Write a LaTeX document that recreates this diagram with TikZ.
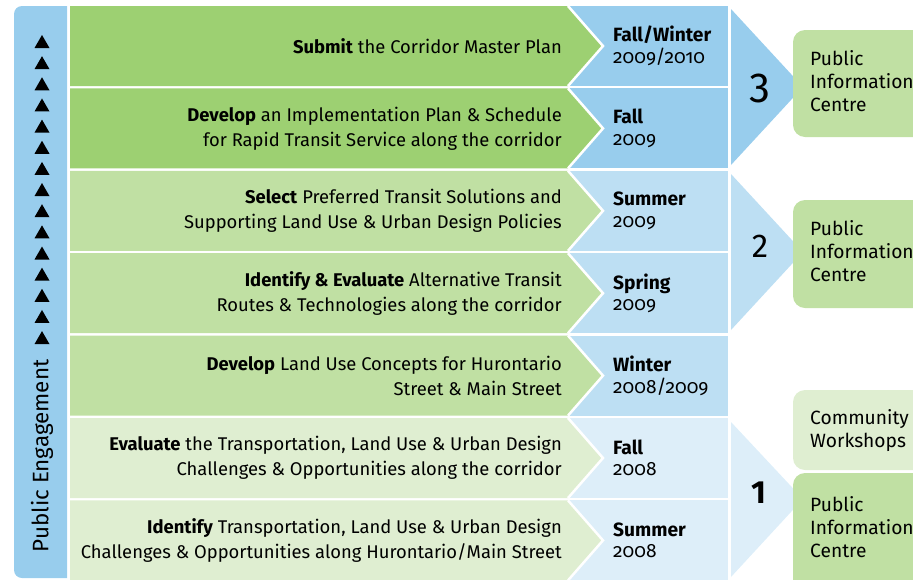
\documentclass[tikz,border=0pt]{standalone}
\usepackage{fontspec}
\setmainfont{Fira Sans}
\newfontfamily\yearfont[Numbers=OldStyle]{Fira Sans}

\definecolor{greenA}{RGB}{157,208,114}
\definecolor{greenB}{RGB}{192,224,163}
\definecolor{greenC}{RGB}{223,238,209}
\definecolor{blueA}{RGB}{152,205,237}
\definecolor{blueB}{RGB}{189,223,243}
\definecolor{blueC}{RGB}{221,238,249}

\tikzset{
  stage/.style={anchor=east, align=right, inner sep=0pt, font=\fontsize{18.4}{25}\selectfont},
  date/.style={anchor=west, align=left, inner sep=0pt, font=\fontsize{19.2}{21.5}\selectfont},
  bignum/.style={inner sep=0pt, font=\fontsize{#1}{#1}\selectfont},
  boxtext/.style={anchor=west, align=left, inner sep=0pt, font=\fontsize{19.2}{23}\selectfont}
}

\newcommand{\phaserow}[6]{%
  \fill[#3] (568,#1) rectangle (728,#1+80);
  \fill[#2] (70,#1) -- (568,#1) -- (603,#1+40) -- (568,#1+80) -- (70,#1+80) -- cycle;
  \draw[white, line width=2.5pt] (568,#1) -- (603,#1+40) -- (568,#1+80);
  \node[stage] (#4) at (562,#1+40) {#5};
  \node[date] (#4-date) at (613,#1+40) {#6};
}

\begin{document}
\begin{tikzpicture}[x=1pt, y=-1pt]
        \useasboundingbox (0,0) rectangle (913,579);
        \clip (0,0) rectangle (913,579);

        \fill[blueA] (67,6) [rounded corners=8pt] -- (14,6) -- (14,578) [sharp corners] -- (67,578) -- cycle;
        \foreach \k in {0,...,14}
          \fill (42,35+21.15*\k) -- (49.5,48+21.15*\k) -- (34.5,48+21.15*\k) -- cycle;
        \node[rotate=90, inner sep=0pt, font=\fontsize{22.4}{22.4}\selectfont] (engage) at (42,456) {Public Engagement};

        \phaserow{6}{greenA}{blueA}{submit}{\textbf{Submit} the Corridor Master Plan}{\textbf{Fall/Winter}\\{\yearfont 2009/2010}}
        \phaserow{88.4}{greenA}{blueA}{implement}{\textbf{Develop} an Implementation Plan \& Schedule\\for Rapid Transit Service along the corridor}{\textbf{Fall}\\{\yearfont 2009}}
        \phaserow{170.8}{greenB}{blueB}{select}{\textbf{Select} Preferred Transit Solutions and\\Supporting Land Use \& Urban Design Policies}{\textbf{Summer}\\{\yearfont 2009}}
        \phaserow{253.2}{greenB}{blueB}{routes}{\textbf{Identify \& Evaluate} Alternative Transit\\Routes \& Technologies along the corridor}{\textbf{Spring}\\{\yearfont 2009}}
        \phaserow{335.6}{greenB}{blueB}{landuse}{\textbf{Develop} Land Use Concepts for Hurontario\\Street \& Main Street}{\textbf{Winter}\\{\yearfont 2008/2009}}
        \phaserow{418}{greenC}{blueC}{evaluate}{\textbf{Evaluate} the Transportation, Land Use \& Urban Design\\Challenges \& Opportunities along the corridor}{\textbf{Fall}\\{\yearfont 2008}}
        \phaserow{500.4}{greenC}{blueC}{identify}{\textbf{Identify} Transportation, Land Use \& Urban Design\\Challenges \& Opportunities along Hurontario/Main Street}{\textbf{Summer}\\{\yearfont 2008}}

        \fill[blueA] (731,9) -- (803,87) -- (731,165) -- cycle;
        \fill[blueB] (731,174) -- (803,252) -- (731,330) -- cycle;
        \fill[blueC] (731,422) -- (803,499) -- (731,577) -- cycle;
        \node[bignum=42] (three) at (760,88) {3};
        \node[bignum=33] (two) at (760,246) {2};
        \node[bignum=32] (one) at (759,493) {\textbf{1}};

        \fill[greenB, rounded corners=12pt] (793,30) rectangle (940,137);
        \fill[greenB, rounded corners=12pt] (793,200) rectangle (940,308);
        \fill[greenC, rounded corners=12pt] (793,390) rectangle (940,470);
        \fill[greenB, rounded corners=12pt] (793,473) rectangle (940,600);
        \node[boxtext] (pic3) at (810,81) {Public\\Information\\Centre};
        \node[boxtext] (pic2) at (810,251) {Public\\Information\\Centre};
        \node[boxtext] (workshops) at (810,431) {Community\\Workshops};
        \node[boxtext] (pic1) at (810,527) {Public\\Information\\Centre};
\end{tikzpicture}
\end{document}
